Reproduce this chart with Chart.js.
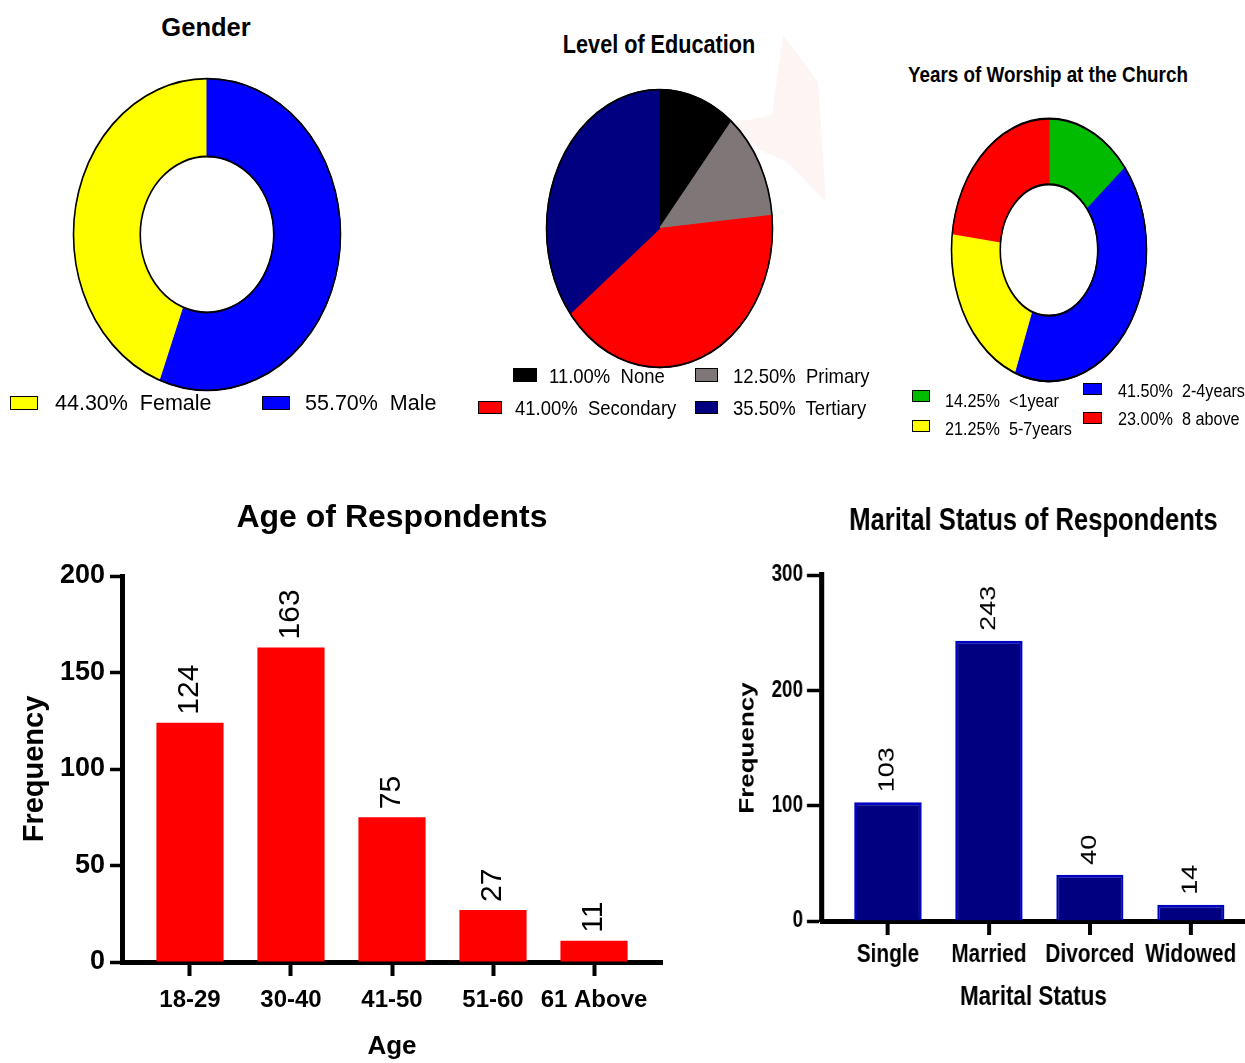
<!DOCTYPE html>
<html>
<head>
<meta charset="utf-8">
<title>Respondent Profile</title>
<script src="https://cdn.jsdelivr.net/npm/chart.js@4.4.1/dist/chart.umd.min.js"></script>
<style>
  html, body { margin: 0; padding: 0; background: #fff; }
  body { width: 1245px; height: 1063px; position: relative; overflow: hidden;
         font-family: "Liberation Sans", Arial, sans-serif; color: #000; }
  canvas { position: absolute; }
  #maritalChart { transform-origin: left top; }
  .txt { position: absolute; white-space: pre; line-height: 1; color: #000; }
  .ttl { font-weight: bold; transform-origin: center top; }
  .lg  { transform-origin: left top; }
  .box { position: absolute; box-sizing: border-box; border: 1.5px solid #000; }
  #glare { position: absolute; left: 0; top: 0; width: 1245px; height: 1063px; background: #fdf5f4;
           clip-path: polygon(783px 35px, 818px 82px, 826px 202px, 787px 162px, 760px 150px, 733px 123px, 772px 115px); }
</style>
</head>
<body>
<div id="glare"></div>
<canvas id="genderChart"></canvas>
<canvas id="eduChart"></canvas>
<canvas id="yearsChart"></canvas>
<canvas id="ageChart" width="680" height="593" style="left:0px;top:470px;"></canvas>
<canvas id="maritalChart"></canvas>

<script>
// ---- data ----
const genderLabels = ['Female', 'Male'];
const genderPct = [44.30, 55.70];

const eduLabels = ['None', 'Primary', 'Secondary', 'Tertiary'];
const eduPct = [11.00, 12.50, 41.00, 35.50];

const yearsLabels = ['<1year', '2-4years', '5-7years', '8 above'];
const yearsPct = [14.25, 41.50, 21.25, 23.00];

const ageLabels = ['18-29', '30-40', '41-50', '51-60', '61 Above'];
const ageCounts = [124, 163, 75, 27, 11];
const ageTicks = [0, 50, 100, 150, 200];

const maritalLabels = ['Single', 'Married', 'Divorced', 'Widowed'];
const maritalCounts = [103, 243, 40, 14];
const maritalTicks = [0, 100, 200, 300];

// ---- styles ----
const genderColors = ['#ffff00', '#0000ff'];
const eduColors = ['#000000', '#7f7777', '#ff0000', '#000080'];
const yearsColors = ['#00bb00', '#0000ff', '#ffff00', '#ff0000'];
const SANS = '"Liberation Sans", Arial, sans-serif';

Chart.defaults.font.family = SANS;
Chart.defaults.color = '#000';

// ---- pie geometry (ellipse centre and radii) ----
const pieGeom = {
  gender: { cx: 207, cy: 234.5, rx: 134, ry: 156.5, cut: '50%' },
  edu:    { cx: 659.5, cy: 228.5, rx: 113.5, ry: 139.5, cut: 0 },
  years:  { cx: 1049, cy: 250, rx: 98, ry: 132, cut: '50%' }
};

// stretch the round chart into an ellipse and outline its rims
function ellipsePlugin(ratio, lw) {
  return {
    id: 'ellipse',
    beforeDatasetsDraw(chart) {
      const a = chart.chartArea, ctx = chart.ctx;
      const cx = (a.left + a.right) / 2, cy = (a.top + a.bottom) / 2;
      ctx.save();
      ctx.translate(cx, cy);
      ctx.scale(1, ratio);
      ctx.translate(-cx, -cy);
    },
    afterDatasetsDraw(chart) {
      const ctx = chart.ctx;
      const arc = chart.getDatasetMeta(0).data[0];
      ctx.lineWidth = lw;
      ctx.strokeStyle = '#000';
      ctx.beginPath();
      ctx.arc(arc.x, arc.y, arc.outerRadius, 0, Math.PI * 2);
      ctx.stroke();
      if (arc.innerRadius > 0) {
        ctx.beginPath();
        ctx.arc(arc.x, arc.y, arc.innerRadius, 0, Math.PI * 2);
        ctx.stroke();
      }
      ctx.restore();
    }
  };
}

function drawPie(id, values, colors, g, rotation) {
  const pad = 4;
  const W = Math.round(2 * g.rx + 2 * pad), H = Math.round(2 * g.ry + 2 * pad);
  const cv = document.getElementById(id);
  cv.width = W; cv.height = H;
  cv.style.left = (g.cx - W / 2) + 'px';
  cv.style.top = (g.cy - H / 2) + 'px';
  const vpad = (H - W) / 2 + pad;
  new Chart(cv, {
    type: 'doughnut',
    data: { datasets: [{ data: values, backgroundColor: colors, borderColor: colors, borderWidth: 1 }] },
    options: {
      responsive: false, animation: false, events: [],
      cutout: g.cut, rotation: rotation,
      layout: { padding: { left: pad, right: pad, top: vpad, bottom: vpad } },
      plugins: { legend: { display: false }, tooltip: { enabled: false } }
    },
    plugins: [ellipsePlugin(g.ry / g.rx, 1.6)]
  });
}

const total = a => a.reduce((s, v) => s + v, 0);
drawPie('genderChart', genderPct, genderColors, pieGeom.gender, -genderPct[0] / total(genderPct) * 360);
drawPie('eduChart', eduPct, eduColors, pieGeom.edu, 0);
drawPie('yearsChart', yearsPct, yearsColors, pieGeom.years, 0);

// ---- HTML titles and legends for the round charts ----
function addText(str, cls, css) {
  const d = document.createElement('div');
  d.className = 'txt ' + cls;
  d.textContent = str;
  Object.assign(d.style, css);
  document.body.appendChild(d);
}
function addTitle(str, cx, top, size, sx) {
  addText(str, 'ttl', { left: cx + 'px', top: top + 'px', fontSize: size + 'px',
                        transform: 'translateX(-50%) scaleX(' + sx + ')' });
}
addTitle('Gender', 206, 14.8, 25.5, 1);
addTitle('Level of Education', 659, 31.8, 25, 0.865);
addTitle('Years of Worship at the Church', 1048, 64.4, 22, 0.855);

// legend slot placement: [boxX, boxY, boxW, boxH, textX, textTop]
const genderLegendPos = [[10, 396, 28, 14, 55, 392.5], [262, 396, 28, 14, 305, 392.5]];
const eduLegendPos = [[513, 368, 24, 14, 549, 365.2], [695, 368, 23, 14, 733, 365.2],
                      [478, 401, 24, 13, 515, 397.2], [695, 401, 23, 13, 733, 397.2]];
const yearsLegendPos = [[912, 390, 18, 12, 945, 391.8], [1083, 383, 19, 12, 1118, 381.8],
                        [912, 420, 18, 12, 945, 419.8], [1083, 412, 19, 12, 1118, 409.8]];

function addLegend(labels, pct, colors, pos, size, sx) {
  labels.forEach((lab, i) => {
    const [bx, by, bw, bh, tx, ty] = pos[i];
    const b = document.createElement('div');
    b.className = 'box';
    Object.assign(b.style, { left: bx + 'px', top: by + 'px', width: bw + 'px', height: bh + 'px', background: colors[i] });
    document.body.appendChild(b);
    addText(pct[i].toFixed(2) + '%  ' + lab, 'lg', { left: tx + 'px', top: ty + 'px', fontSize: size + 'px',
                                                      transform: 'scaleX(' + sx + ')' });
  });
}
addLegend(genderLabels, genderPct, genderColors, genderLegendPos, 21.5, 1);
addLegend(eduLabels, eduPct, eduColors, eduLegendPos, 21, 0.88);
addLegend(yearsLabels, yearsPct, yearsColors, yearsLegendPos, 18, 0.9);

// ---- bar charts ----
// rotated value labels above each bar
function valueLabels(font, gap) {
  return {
    id: 'valueLabels',
    afterDatasetsDraw(chart) {
      const ctx = chart.ctx;
      const ds = chart.data.datasets[0];
      chart.getDatasetMeta(0).data.forEach((bar, i) => {
        ctx.save();
        ctx.translate(bar.x, bar.y - gap);
        ctx.rotate(-Math.PI / 2);
        ctx.font = font;
        ctx.fillStyle = '#000';
        ctx.textAlign = 'left';
        ctx.textBaseline = 'middle';
        ctx.fillText(String(ds.data[i].y), 0, 0);
        ctx.restore();
      });
    }
  };
}

function barChart(id, cfg) {
  new Chart(document.getElementById(id), {
    type: 'bar',
    data: {
      datasets: [{
        data: cfg.labels.map((_, i) => ({ x: i, y: cfg.values[i] })),
        backgroundColor: cfg.fill, borderColor: cfg.edge, borderWidth: cfg.edgeWidth,
        barPercentage: 0.665, categoryPercentage: 1
      }]
    },
    options: {
      responsive: false, animation: false, events: [],
      layout: { padding: { left: 0, right: cfg.padRight, top: 0, bottom: 0 } },
      plugins: {
        legend: { display: false }, tooltip: { enabled: false },
        title: { display: true, text: cfg.title, fullSize: false, color: '#000',
                 font: { size: cfg.titleSize, weight: 'bold' },
                 padding: cfg.titlePad }
      },
      scales: {
        x: {
          type: 'linear', min: cfg.xMin, max: cfg.xMax, offset: false,
          afterBuildTicks: s => { s.ticks = cfg.labels.map((_, i) => ({ value: i })); },
          afterFit: s => { s.height = cfg.xHeight; },
          grid: { offset: false, drawOnChartArea: false, drawTicks: true, tickLength: 14, tickWidth: cfg.xTickWidth, tickColor: '#000' },
          border: { display: true, color: '#000', width: 5 },
          ticks: { autoSkip: false, maxRotation: 0, minRotation: 0, padding: cfg.xTickPad, color: '#000',
                   font: { size: cfg.xTickSize, weight: 'bold' },
                   callback: v => cfg.labels[v] },
          title: { display: true, text: cfg.xTitle, color: '#000',
                   font: { size: cfg.xTitleSize, weight: 'bold' },
                   padding: { top: 0, bottom: cfg.xTitlePad } }
        },
        y: {
          min: 0, max: cfg.ticks[cfg.ticks.length - 1],
          afterBuildTicks: s => { s.ticks = cfg.ticks.map(v => ({ value: v })); },
          afterFit: s => { s.width = cfg.yWidth; },
          grid: { drawOnChartArea: false, drawTicks: true, tickLength: cfg.yTickLen, tickWidth: 3.5, tickColor: '#000' },
          border: { display: true, color: '#000', width: cfg.yBorder },
          ticks: { padding: cfg.yTickPad, color: '#000', font: { size: cfg.yTickSize, weight: 'bold' } },
          title: { display: true, text: 'Frequency', color: '#000',
                   font: { size: cfg.yTitleSize, weight: 'bold' },
                   padding: { top: cfg.yTitlePad, bottom: 0 } }
        }
      }
    },
    plugins: [valueLabels(cfg.valueFont, cfg.valueGap)]
  });
}

barChart('ageChart', {
  labels: ageLabels, values: ageCounts, ticks: ageTicks,
  fill: '#ff0000', edge: '#ff0000', edgeWidth: 0,
  title: 'Age of Respondents', titleSize: 32, titlePad: { top: 28.8, bottom: 38.8 },
  padRight: 18, xMin: -0.673, xMax: 4.673, xHeight: 101, xTickWidth: 4,
  xTickSize: 24, xTickPad: 9.6, xTitle: 'Age', xTitleSize: 26, xTitlePad: 1,
  yWidth: 122, yBorder: 5, yTickLen: 12, yTickPad: 5, yTickSize: 27, yTitleSize: 29, yTitlePad: 18,
  valueFont: '30px ' + SANS, valueGap: 8
});

// the marital panel uses condensed lettering: it is drawn wider and squeezed horizontally
const SQ = 0.8;
const mc = document.getElementById('maritalChart');
mc.width = Math.round(545 / SQ);
mc.height = 593;
mc.style.left = '700px';
mc.style.top = '470px';
mc.style.transform = 'scaleX(' + SQ + ')';

barChart('maritalChart', {
  labels: maritalLabels, values: maritalCounts, ticks: maritalTicks,
  fill: '#000080', edge: '#0000c0', edgeWidth: 3,
  title: 'Marital Status of Respondents', titleSize: 32, titlePad: { top: 32.3, bottom: 34.3 },
  padRight: 0, xMin: -0.6535, xMax: 3.535, xHeight: 142, xTickWidth: 4 / SQ,
  xTickSize: 26, xTickPad: 4.4, xTitle: 'Marital Status', xTitleSize: 28, xTitlePad: 48.7,
  yWidth: 122 / SQ, yBorder: 5 / SQ, yTickLen: 15 / SQ, yTickPad: 4 / SQ, yTickSize: 23.5, yTitleSize: 26, yTitlePad: 44.4,
  valueFont: '27px ' + SANS, valueGap: 10
});
</script>
</body>
</html>
